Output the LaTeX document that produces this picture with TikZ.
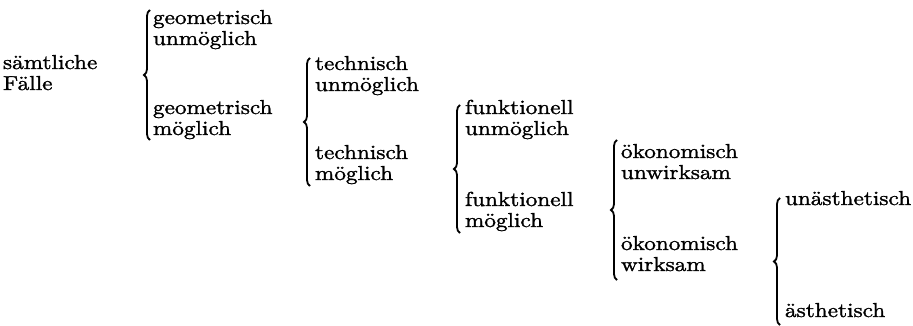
\documentclass[tikz,border=0pt]{standalone}
\usepackage{fontspec}
\setmainfont{lmroman10-regular.otf}[FakeStretch=1.15, FakeBold=1.5]
\usetikzlibrary{decorations.pathreplacing}
\tikzset{
  lbl/.style={anchor=base west, inner sep=0pt, outer sep=0pt, align=left,
    font=\fontsize{20.2}{21}\selectfont},
  brc/.style={decorate, decoration={brace, amplitude=6pt, aspect=0.5}, line width=1.8pt}
}
\begin{document}
\begin{tikzpicture}[x=1pt, y=-1pt]
\useasboundingbox (0,0) rectangle (913,326);
% labels (anchor = baseline of the last line)
\node[lbl] (A)  at (3,90)   {sämtliche\\Fälle};
\node[lbl] (B1) at (153,45) {geometrisch\\unmöglich};
\node[lbl] (B2) at (153,135){geometrisch\\möglich};
\node[lbl] (C1) at (315,91) {technisch\\unmöglich};
\node[lbl] (C2) at (315,180){technisch\\möglich};
\node[lbl] (D1) at (465,135){funktionell\\unmöglich};
\node[lbl] (D2) at (465,227){funktionell\\möglich};
\node[lbl] (E1) at (621,179){ökonomisch\\unwirksam};
\node[lbl] (E2) at (621,271){ökonomisch\\wirksam};
\node[lbl] (F1) at (785,205){unästhetisch};
\node[lbl] (F2) at (785,317){ästhetisch};
% brace end points
\coordinate (b1t) at (150,10);  \coordinate (b1b) at (150,140);
\coordinate (b2t) at (310,58);  \coordinate (b2b) at (310,186);
\coordinate (b3t) at (460,105); \coordinate (b3b) at (460,233);
\coordinate (b4t) at (617,140); \coordinate (b4b) at (617,280);
\coordinate (b5t) at (780,198); \coordinate (b5b) at (780,325);
\draw[brc] (b1b) -- (b1t);
\draw[brc] (b2b) -- (b2t);
\draw[brc] (b3b) -- (b3t);
\draw[brc] (b4b) -- (b4t);
\draw[brc] (b5b) -- (b5t);
\end{tikzpicture}
\end{document}
